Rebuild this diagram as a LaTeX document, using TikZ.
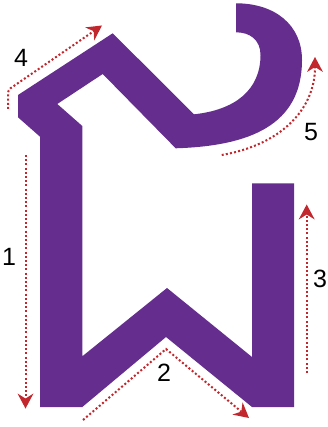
\documentclass[tikz,border=0pt]{standalone}
\usepackage{fontspec}
\setmainfont{Liberation Sans}
\usetikzlibrary{arrows.meta}
\definecolor{wpurple}{RGB}{101,45,142}
\definecolor{wred}{RGB}{193,39,45}
\tikzset{
  band/.style={fill=wpurple, draw=none},
  guide/.style={draw=wred, line width=2pt, dash pattern=on 2pt off 2.2pt,
    -{Stealth[length=15pt,width=16pt,inset=5pt,fill=wred,line width=0pt]}},
  num/.style={font=\fontsize{25}{25}\selectfont, text=black, inner sep=0pt}
}
\begin{document}
\begin{tikzpicture}[x=1pt,y=-1pt]
\useasboundingbox (0,0) rectangle (328,427);
% letter shape
\path[band] (236,3.3)
  .. controls (275,3.3) and (302,25) .. (302,60)
  .. controls (302,125) and (250,146) .. (175.7,148.3)
  -- (102.7,74) -- (57.3,104) -- (82.3,126) -- (82.3,356.3)
  -- (167,288) -- (252,357) -- (252,183.3) -- (294,183.3)
  -- (294,407) -- (252,407) -- (166,337) -- (82.3,407)
  -- (40,407) -- (40,136.7) -- (18,117.3) -- (18,95)
  -- (112.7,33.3) -- (194,114.3)
  .. controls (235,110) and (260.5,90) .. (260.5,55)
  .. controls (260.5,40) and (250,32.3) .. (236,32.3)
  -- cycle;
% guide coordinates
\coordinate (a1s) at (25.5,155);
\coordinate (a1e) at (25.5,408.5);
\coordinate (a2s) at (83,420);
\coordinate (a2m) at (166,349);
\coordinate (a2e) at (249,418);
\coordinate (a3s) at (306.7,373);
\coordinate (a3e) at (306.7,204.5);
\coordinate (a4s) at (8,109);
\coordinate (a4m) at (8,90);
\coordinate (a4e) at (102,25.5);
\coordinate (a5s) at (221.7,155);
\coordinate (a5e) at (315,57);
% guides
\draw[guide] (a1s) -- (a1e);
\draw[guide] (a2s) -- (a2m) -- (a2e);
\draw[guide] (a3s) -- (a3e);
\draw[guide, rounded corners=3pt] (a4s) -- (a4m) -- (a4e);
\draw[guide] (a5s) .. controls (280,145) and (315,110) .. (a5e);
% labels
\node[num] (n1) at (9,257) {1};
\node[num] (n2) at (164,373) {2};
\node[num] (n3) at (320,279) {3};
\node[num] (n4) at (21,57.5) {4};
\node[num] (n5) at (311,131.7) {5};
\end{tikzpicture}
\end{document}
